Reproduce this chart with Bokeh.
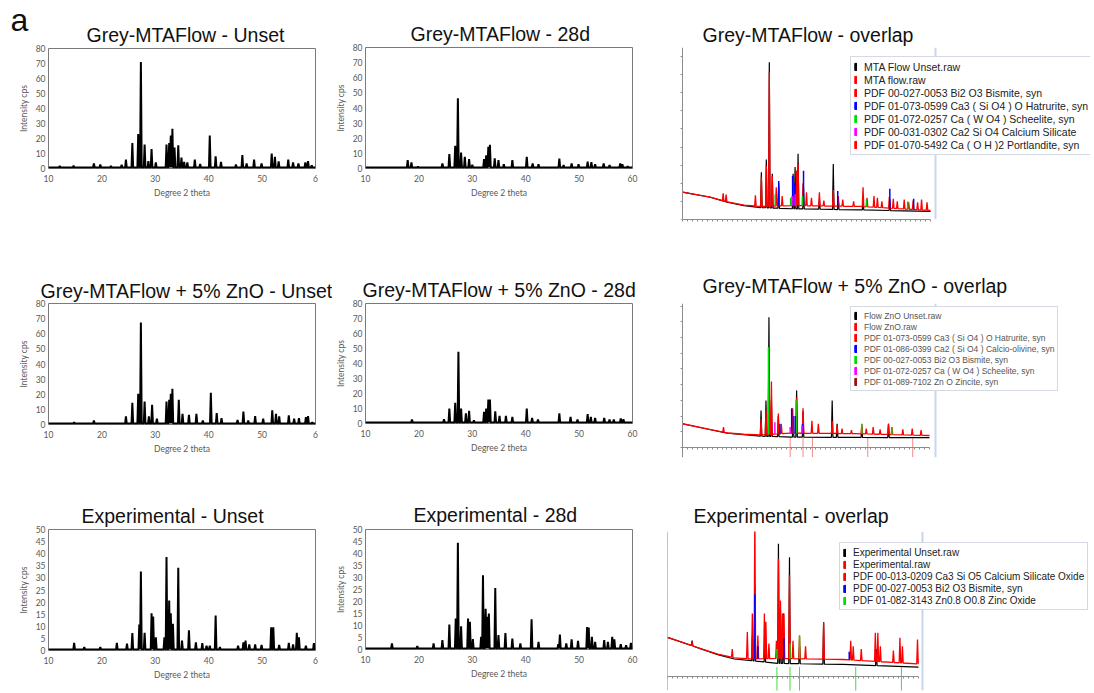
import numpy as np
from bokeh.plotting import figure
from bokeh.models import Range1d, FixedTicker, Legend, LegendItem, Title, Span
from bokeh.layouts import row, column
from bokeh.embed import file_html
from bokeh.resources import INLINE

# ---------------- data ----------------
x_ticks = [10, 20, 30, 40, 50, 60]
y_ticks_80 = [0, 10, 20, 30, 40, 50, 60, 70, 80]
y_ticks_50 = [0, 5, 10, 15, 20, 25, 30, 35, 40, 45, 50]

# Grey-MTAFlow - Unset
p1_pos = [12.1, 14.7, 18.5, 19.7, 21.7, 23.7, 24.5, 25.7, 26.8, 27.3, 28.0, 28.7, 29.3, 30.1,
          32.1, 32.6, 32.9, 33.2, 33.6, 34.3, 34.9, 35.4, 36.0, 37.4, 38.4, 40.2, 41.3, 42.3,
          45.1, 46.3, 47.1, 48.5, 49.9, 51.8, 52.4, 53.1, 54.9, 55.8, 56.8, 58.1, 58.6, 59.3]
p1_int = [1.8, 2.0, 3.3, 2.7, 1.8, 2.4, 6.0, 17.0, 23.0, 71.0, 16.0, 5.0, 13.0, 4.0,
          16.0, 17.0, 22.0, 26.5, 14.0, 15.5, 7.3, 4.4, 4.0, 6.0, 3.0, 22.0, 8.2, 4.4,
          2.7, 9.0, 3.3, 6.0, 3.3, 10.0, 7.8, 4.7, 6.0, 4.0, 3.3, 4.0, 4.9, 2.2]
# Grey-MTAFlow - 28d
p2_pos = [17.9, 18.6, 19.8, 24.4, 25.7, 26.8, 27.3, 27.9, 28.6, 29.4, 30.0, 32.2, 32.6, 33.0,
          33.3, 34.2, 34.9, 35.9, 37.5, 40.2, 41.3, 42.4, 46.3, 47.1, 48.6, 49.9, 51.6, 52.3,
          53.0, 54.6, 55.7, 57.7, 58.1, 59.1]
p2_int = [5.5, 4.0, 1.3, 3.3, 9.5, 15.0, 46.5, 10.6, 7.7, 6.2, 2.4, 6.2, 8.8, 14.3,
          15.6, 6.8, 5.5, 2.9, 5.5, 7.7, 3.3, 2.9, 6.6, 2.2, 3.3, 2.9, 4.6, 4.2,
          2.9, 3.3, 2.2, 3.3, 2.9, 1.5]
# Grey-MTAFlow + 5% ZnO - Unset
p4_pos = [14.8, 18.5, 24.5, 25.7, 26.8, 27.3, 28.0, 28.8, 29.4, 30.3, 32.1, 32.6, 32.9, 33.2,
          34.4, 35.1, 36.3, 37.7, 38.9, 40.4, 41.5, 42.4, 45.4, 46.5, 47.4, 48.7, 50.2, 51.9,
          52.6, 53.2, 55.0, 56.0, 56.9, 58.2, 58.6, 59.4]
p4_int = [1.5, 2.7, 5.3, 14.4, 20.3, 67.4, 15.2, 5.3, 13.0, 3.8, 15.2, 16.4, 20.3, 23.6,
          16.4, 7.0, 6.4, 7.0, 2.7, 21.0, 7.5, 4.2, 3.0, 8.6, 2.7, 5.5, 3.8, 9.3,
          7.0, 5.3, 6.0, 3.8, 4.2, 4.9, 5.5, 1.5]
# Grey-MTAFlow + 5% ZnO - 28d
p5_pos = [18.7, 24.7, 25.7, 26.8, 27.4, 27.9, 28.8, 29.4, 30.3, 32.2, 32.6, 33.0, 33.3, 34.3,
          35.1, 36.3, 37.5, 40.2, 41.2, 42.3, 46.3, 48.4, 49.7, 51.6, 52.2, 53.0, 54.7, 55.7,
          56.5, 57.8, 58.3]
p5_int = [2.7, 2.9, 10.0, 13.8, 47.8, 10.0, 6.7, 8.4, 2.2, 7.8, 10.0, 16.0, 16.0, 8.2,
          5.1, 5.1, 4.4, 10.0, 3.8, 2.7, 6.7, 4.4, 2.7, 6.2, 4.4, 3.8, 3.8, 2.7,
          2.7, 3.3, 2.9]
# Experimental - Unset
p7_pos = [14.8, 16.7, 19.7, 22.8, 24.7, 25.7, 27.0, 27.3, 28.0, 29.3, 29.6, 30.1, 31.7, 32.1,
          32.6, 32.9, 33.3, 34.3, 35.0, 36.3, 37.6, 38.8, 39.6, 40.2, 41.3, 42.1, 45.5, 46.5,
          46.9, 47.6, 48.7, 49.9, 51.7, 52.1, 53.2, 55.0, 55.8, 56.5, 56.9, 58.2, 59.7]
p7_int = [3.2, 1.4, 1.4, 3.2, 2.8, 7.2, 10.7, 32.6, 7.3, 15.4, 14.0, 5.5, 5.5, 38.6,
          20.7, 15.4, 11.0, 34.2, 4.1, 8.3, 3.4, 3.0, 2.0, 2.0, 14.5, 1.4, 2.0, 3.4,
          4.1, 2.5, 2.5, 2.3, 9.6, 9.6, 2.3, 3.2, 2.5, 7.3, 5.5, 2.0, 3.0]
# Experimental - 28d
p8_pos = [14.95, 19.7, 22.75, 24.4, 25.7, 26.9, 27.3, 27.9, 29.2, 29.55, 30.1, 31.65, 32.0, 32.5,
          32.8, 33.1, 34.3, 34.9, 36.2, 37.5, 39.0, 41.1, 42.4, 46.1, 46.4, 47.6, 48.6, 49.8,
          51.5, 51.8, 52.4, 53.0, 54.7, 55.4, 56.2, 56.6, 57.8, 58.8, 59.7]
p8_int = [2.5, 1.4, 2.5, 3.9, 10.4, 12.9, 44.5, 9.7, 12.9, 11.5, 4.3, 5.3, 30.9, 17.0,
          13.6, 15.0, 25.6, 6.0, 6.9, 4.6, 2.5, 12.6, 3.2, 2.2, 6.2, 2.5, 4.2, 3.6,
          9.4, 9.1, 5.3, 3.2, 3.9, 3.2, 5.3, 4.2, 2.2, 1.8, 2.8]

# ---- overlap 1 (Grey-MTAFlow) : counts ----
ov1_bg_x = [10, 15.6, 19.0, 22.4, 25.7, 32.4, 45.9, 60]
ov1_bg_unset = [151, 123, 96, 77, 66, 59, 53, 45]
ov1_bg_set = [151, 123, 97, 79, 72, 77, 72, 50]
ov1_unset_pos = [25.9, 26.9, 27.5, 28.1, 29.4, 32.3, 32.7, 33.3, 34.4, 37.6, 40.4, 41.4, 46.4, 51.8]
ov1_unset_top = [261, 331, 868, 252, 180, 252, 290, 363, 180, 110, 307, 120, 110, 110]
ov1_set_pos = [18.2, 18.8, 24.7, 25.9, 26.9, 27.5, 28.1, 28.9, 29.4, 30.1, 32.3, 33.0, 33.3, 34.3,
               35.0, 36.0, 37.6, 38.5, 40.4, 41.4, 42.3, 44.5, 46.4, 47.2, 48.6, 49.3, 50.2,
               51.7, 52.5, 53.3, 54.7, 55.6, 56.5, 57.4, 58.2, 59.3]
ov1_set_top = [145, 138, 133, 236, 295, 813, 240, 178, 200, 130, 220, 270, 307, 200,
               150, 120, 150, 105, 163, 130, 110, 100, 178, 120, 130, 120, 100,
               125, 115, 100, 110, 95, 105, 95, 110, 95]
ov1_hat_pos = [29.4, 32.2, 32.6, 34.4, 41.3, 51.8, 56.6]
ov1_hat_top = [212, 240, 200, 269, 157, 170, 115]
ov1_sch_pos = [28.7, 31.8, 34.2, 47.1, 55.4]
ov1_sch_top = [140, 120, 130, 110, 100]
ov1_c2s_pos = [32.1, 32.7]
ov1_c2s_top = [130, 140]
ov1_labels = ["MTA Flow Unset.raw", "MTA flow.raw",
              "PDF 00-027-0053 Bi2 O3 Bismite, syn",
              "PDF 01-073-0599 Ca3 ( Si O4 ) O Hatrurite, syn",
              "PDF 01-072-0257 Ca ( W O4 ) Scheelite, syn",
              "PDF 00-031-0302 Ca2 Si O4 Calcium Silicate",
              "PDF 01-070-5492 Ca ( O H )2 Portlandite, syn"]
ov1_colors = ["#000000", "#ff0000", "#ff0000", "#0000ff", "#00dd00", "#ff00ff", "#ff0000"]

# ---- overlap 2 (Grey-MTAFlow + 5% ZnO) ----
ov2_bg_x = [10, 15.7, 19.1, 22.4, 25.8, 32.0, 45.0, 60]
ov2_bg_unset = [151, 113, 91, 81, 72, 66, 64, 62]
ov2_bg_set = [151, 113, 92, 84, 80, 91, 88, 76]
ov2_unset_pos = [25.9, 26.9, 27.5, 28.0, 29.4, 32.4, 33.1, 34.4, 40.3, 41.3, 46.3, 51.7]
ov2_unset_top = [236, 299, 830, 300, 200, 200, 363, 230, 299, 150, 130, 150]
ov2_set_pos = [18.3, 25.9, 26.9, 27.5, 28.0, 29.4, 30.0, 32.3, 33.1, 34.4, 36.2, 37.5, 40.3, 41.3,
               42.3, 44.2, 46.3, 47.2, 48.6, 50.0, 51.7, 52.4, 54.6, 56.5, 58.3]
ov2_set_top = [130, 180, 240, 640, 420, 216, 150, 250, 320, 250, 170, 150, 170, 140,
               120, 110, 150, 120, 130, 115, 150, 130, 115, 120, 110]
ov2_bis_pos = [27.4, 33.0, 46.3, 52.4]
ov2_bis_top = [639, 300, 150, 120]
ov2_cao_pos = [29.7, 32.1, 32.8, 34.3]
ov2_cao_top = [150, 250, 200, 150]
ov2_sch_pos = [28.7, 31.8, 34.2]
ov2_sch_top = [160, 130, 140]
ov2_znc_pos = [31.8, 34.4, 36.3, 47.5, 56.6]
ov2_znc_span = [60, -62]
ov2_labels = ["Flow ZnO Unset.raw", "Flow ZnO.raw",
              "PDF 01-073-0599 Ca3 ( Si O4 ) O Hatrurite, syn",
              "PDF 01-086-0399 Ca2 ( Si O4 ) Calcio-olivine, syn",
              "PDF 00-027-0053 Bi2 O3 Bismite, syn",
              "PDF 01-072-0257 Ca ( W O4 ) Scheelite, syn",
              "PDF 01-089-7102 Zn O Zincite, syn"]
ov2_colors = ["#000000", "#ff0000", "#ff0000", "#0000ff", "#00dd00", "#ff00ff", "#9b1010"]

# ---- overlap 3 (Experimental) ----
ov3_bg_x = [10, 16.7, 20.0, 23.3, 26.7, 32.0, 45.0, 60]
ov3_bg_unset = [143, 101, 80, 64, 58, 48, 44, 34]
ov3_bg_set = [143, 101, 82, 68, 64, 66, 62, 46]
ov3_unset_pos = [14.9, 26.9, 27.4, 29.4, 32.1, 32.5, 33.1, 34.3, 36.3, 41.1, 51.6]
ov3_unset_top = [131, 150, 330, 160, 484, 250, 230, 435, 110, 198, 100]
ov3_set_pos = [14.9, 22.9, 25.9, 26.9, 27.4, 28.0, 29.3, 29.6, 30.2, 31.7, 32.1, 32.5, 32.9, 33.2,
               34.3, 35.0, 36.3, 37.5, 41.1, 46.5, 47.0, 48.6, 51.4, 51.9, 52.4, 55.0, 56.3, 56.8, 59.8]
ov3_set_top = [125, 100, 162, 230, 600, 150, 230, 200, 120, 130, 430, 277, 230, 230,
               369, 130, 150, 110, 198, 130, 110, 100, 160, 160, 110, 95, 141, 110, 135]
ov3_bis_pos = [27.4, 28.0, 33.2, 46.2]
ov3_bis_top = [300, 110, 140, 90]
ov3_zno_pos = [31.8, 34.4, 36.3]
ov3_zno_top = [100, 120, 150]
ov3_znb_pos = [31.8, 34.4, 36.3, 47.5, 56.6]
ov3_znb_span = [35, -60]
ov3_labels = ["Experimental Unset.raw", "Experimental.raw",
              "PDF 00-013-0209 Ca3 Si O5 Calcium Silicate Oxide",
              "PDF 00-027-0053 Bi2 O3 Bismite, syn",
              "PDF 01-082-3143 Zn0.8 O0.8 Zinc Oxide"]
ov3_colors = ["#000000", "#ff0000", "#ff0000", "#0000ff", "#00dd00"]

TITLE_FONT = "Liberation Sans"
AX_FONT = "Lato"
AX_COLOR = "#595959"
NAN = float("nan")


def build_trace(pos, top, base_x, base_y, hw):
    pos_a = np.asarray(pos, dtype=float)
    pts = []
    for bx, by in zip(base_x, base_y):
        if np.all(np.abs(pos_a - bx) > hw):
            pts.append((float(bx), float(by)))
    for px, h in zip(pos_a, top):
        pts.append((float(px), float(h)))
        for f in (px - hw, px + hw):
            if not np.any(np.abs(pos_a - f) < hw - 1e-9):
                pts.append((float(f), float(np.interp(f, base_x, base_y))))
    pts.sort()
    return [q[0] for q in pts], [q[1] for q in pts]


def make_title(text, offset, standoff, size="19.5px"):
    return Title(text=text, text_font=TITLE_FONT, text_font_size=size,
                 text_font_style="normal", text_color="#111111",
                 align="left", offset=offset, standoff=standoff)


def style_title(p, text, offset, standoff, size="19.5px"):
    p.title.text = text
    p.title.text_font = TITLE_FONT
    p.title.text_font_size = size
    p.title.text_font_style = "normal"
    p.title.text_color = "#111111"
    p.title.align = "left"
    p.title.offset = offset
    p.title.standoff = standoff


def xrd_panel(title, pos, hts, ymax, yticks, w, h, bl, br, bt, bb, toff, tstand, short60):
    p = figure(width=w, height=h, x_range=Range1d(10, 60), y_range=Range1d(0, ymax),
               output_backend="svg", toolbar_location=None,
               min_border_left=bl, min_border_right=br, min_border_top=bt, min_border_bottom=bb)
    style_title(p, title, toff, tstand)
    base = ymax * 0.008
    xs, ys = build_trace(pos, hts, [10, 60], [base, base], 0.15)
    p.line(xs, ys, line_color="black", line_width=2)
    p.grid.visible = False
    p.outline_line_color = "#7a7a7a"
    p.outline_line_width = 1
    for ax in (p.xaxis[0], p.yaxis[0]):
        ax.axis_line_color = None
        ax.major_tick_line_color = None
        ax.minor_tick_line_color = None
        ax.major_tick_out = 0
        ax.major_tick_in = 0
        ax.major_label_text_font = AX_FONT
        ax.major_label_text_font_size = "8.5px"
        ax.major_label_text_color = AX_COLOR
        ax.axis_label_text_font = AX_FONT
        ax.axis_label_text_font_size = "8.5px"
        ax.axis_label_text_color = AX_COLOR
        ax.axis_label_text_font_style = "normal"
    p.xaxis.ticker = FixedTicker(ticks=x_ticks)
    p.yaxis.ticker = FixedTicker(ticks=yticks)
    if short60:
        p.xaxis.major_label_overrides = {60: "6"}
    p.xaxis.axis_label = "Degree 2 theta"
    p.yaxis.axis_label = "Intensity cps"
    p.xaxis.major_label_standoff = 6
    p.xaxis.axis_label_standoff = 3
    p.yaxis.major_label_standoff = 3
    p.yaxis.axis_label_standoff = 4
    return p


def overlap_panel(title, toff, tstand, bg_x, bg_u, bg_s, u_pos, u_top, s_pos, s_top,
                  sticks, below, labels, colors, y_lo, y_hi, y_step,
                  w, h, bl, br, bt, bb, px_axis, px_60, px_edge, leg_xy, leg_font, leg_row,
                  leg_color, fixed_axis):
    # canvas geometry -> x range so that 10 deg sits on the y axis and 60 deg at px_60
    frame_left = bl
    frame_right = w - br
    ppd = (px_60 - px_axis) / 50.0
    x0 = 10 - (px_axis - frame_left) / ppd
    x1 = 10 + (frame_right - px_axis) / ppd
    p = figure(width=w, height=h, x_range=Range1d(x0, x1), y_range=Range1d(y_lo, y_hi),
               output_backend="svg", toolbar_location=None,
               min_border_left=bl, min_border_right=br, min_border_top=bt, min_border_bottom=bb)
    style_title(p, title, toff, tstand)
    p.grid.visible = False
    p.outline_line_color = None
    # right edge of the captured software window
    p.add_layout(Span(location=10 + (px_edge - px_axis) / ppd, dimension="height",
                      line_color="#c9d7ea", line_width=2))
    ux, uy = build_trace(u_pos, u_top, bg_x, bg_u, 0.15)
    sx, sy = build_trace(s_pos, s_top, bg_x, bg_s, 0.15)
    p.line(ux, uy, line_color="black", line_width=1.2)
    p.line(sx, sy, line_color="#ff0000", line_width=1.3)
    for spos, stop, col in sticks:
        y0 = list(np.interp(spos, bg_x, bg_s))
        p.segment(x0=spos, y0=y0, x1=spos, y1=stop, line_color=col, line_width=1.5)
    if below is not None:
        bpos, bspan, bcol, balpha = below
        p.segment(x0=bpos, y0=[bspan[0]] * len(bpos), x1=bpos, y1=[bspan[1]] * len(bpos),
                  line_color=bcol, line_alpha=balpha, line_width=1)
    xa = p.xaxis[0]
    ya = p.yaxis[0]
    xt = list(range(10, 61))
    yt = list(range(0, int(y_hi) + 1, y_step))
    xa.ticker = FixedTicker(ticks=xt)
    ya.ticker = FixedTicker(ticks=yt)
    xa.major_label_overrides = {t: "" for t in xt}
    ya.major_label_overrides = {t: "" for t in yt}
    xa.bounds = (10, 60)
    ya.fixed_location = 10
    for ax in (xa, ya):
        ax.axis_line_color = "#8c8c8c"
        ax.axis_line_width = 1
        ax.major_tick_line_color = "#8c8c8c"
        ax.major_tick_out = 2
        ax.major_tick_in = 0
        ax.minor_tick_line_color = None
        ax.major_label_standoff = 0
        ax.major_label_text_font_size = "1px"
    if fixed_axis:
        xa.fixed_location = 0
    items = []
    for lab, col in zip(labels, colors):
        # legend swatch: a not-drawn (NaN) bar so the legend shows a small vertical bar
        r = p.vbar(x=[NAN], top=[NAN], width=0.2, fill_color=col, line_color=col)
        items.append(LegendItem(label=lab, renderers=[r]))
    leg = Legend(items=items, location=leg_xy, glyph_width=3, glyph_height=9,
                 label_standoff=7, label_height=leg_row, spacing=0, padding=3, margin=0,
                 label_text_font=TITLE_FONT, label_text_font_size=leg_font,
                 label_text_color=leg_color, border_line_color="#a9b3c6",
                 border_line_width=1, background_fill_color="white", background_fill_alpha=1.0)
    p.add_layout(leg)
    return p


# ---------------- panels ----------------
p1 = xrd_panel("a", p1_pos, p1_int, 80, y_ticks_80,
               332, 262, 48, 17, 48, 94, -38, -38, True)
p1.title.text_font_size = "32px"
p1.add_layout(make_title("Grey-MTAFlow - Unset", 38, 6), "above")
p2 = xrd_panel("Grey-MTAFlow - 28d", p2_pos, p2_int, 80, y_ticks_80,
               323, 262, 30, 23, 47, 94, 45, 6, False)
p3 = overlap_panel("Grey-MTAFlow - overlap", 35, 4,
                   ov1_bg_x, ov1_bg_unset, ov1_bg_set, ov1_unset_pos, ov1_unset_top,
                   ov1_set_pos, ov1_set_top,
                   [(ov1_hat_pos, ov1_hat_top, "#0000ff"), (ov1_sch_pos, ov1_sch_top, "#00cc00"),
                    (ov1_c2s_pos, ov1_c2s_top, "#ff00ff")],
                   None, ov1_labels, ov1_colors, 0, 950, 100,
                   438, 262, 12, 3, 47, 43, 27, 275, 280, (183, 64), "10.5px", 13, "#222222",
                   False)

p4 = xrd_panel("Grey-MTAFlow + 5% ZnO - Unset", p4_pos, p4_int, 80, y_ticks_80,
               332, 230, 48, 17, 41, 68, -8, 4, True)
p5 = xrd_panel("Grey-MTAFlow + 5% ZnO - 28d", p5_pos, p5_int, 80, y_ticks_80,
               323, 230, 30, 23, 41, 69, -3, 5, False)
p6 = overlap_panel("Grey-MTAFlow + 5% ZnO - overlap", 35, 14,
                   ov2_bg_x, ov2_bg_unset, ov2_bg_set, ov2_unset_pos, ov2_unset_top,
                   ov2_set_pos, ov2_set_top,
                   [(ov2_bis_pos, ov2_bis_top, "#00dd00"), (ov2_cao_pos, ov2_cao_top, "#0000ff"),
                    (ov2_sch_pos, ov2_sch_top, "#ff00ff")],
                   (ov2_znc_pos, ov2_znc_span, "#e04040", 0.6),
                   ov2_labels, ov2_colors, -64, 917, 100,
                   438, 230, 12, 3, 41, 35, 27, 274, 280, (183, 66), "8.5px", 11, "#555555",
                   True)

p7 = xrd_panel("Experimental - Unset", p7_pos, p7_int, 50, y_ticks_50,
               332, 200, 48, 17, 37, 42, 33, 6, True)
p8 = xrd_panel("Experimental - 28d", p8_pos, p8_int, 50, y_ticks_50,
               323, 200, 30, 23, 37, 43, 48, 8, False)
p9 = overlap_panel("Experimental - overlap", 26, 10,
                   ov3_bg_x, ov3_bg_unset, ov3_bg_set, ov3_unset_pos, ov3_unset_top,
                   ov3_set_pos, ov3_set_top,
                   [(ov3_bis_pos, ov3_bis_top, "#0000ff"), (ov3_zno_pos, ov3_zno_top, "#00dd00")],
                   (ov3_znb_pos, ov3_znb_span, "#00dd00", 0.8),
                   ov3_labels, ov3_colors, -51, 529, 100,
                   438, 200, 12, 3, 39, 2, 12, 263, 267, (172, 80), "10px", 12, "#222222",
                   True)

layout = row(column(p1, p4, p7), column(p2, p5, p8), column(p3, p6, p9))
open("out.html", "w").write(file_html(layout, INLINE))
